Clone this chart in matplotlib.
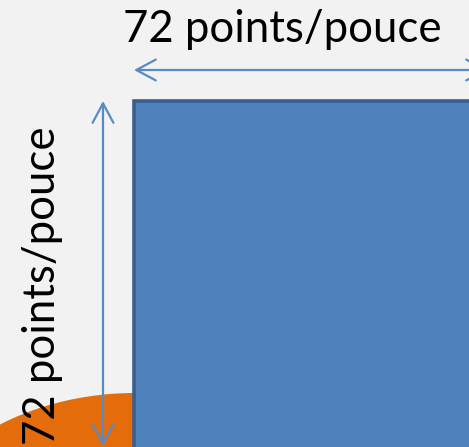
import matplotlib
matplotlib.use("Agg")
import matplotlib.pyplot as plt
from matplotlib.patches import Rectangle, Ellipse

label_text = "72 points/pouce"
bg_color = "#f2f2f2"
square_fill = "#4f81bd"
square_edge = "#3b5e8c"
arrow_color = "#5a8ac6"
orange = "#e46c0a"

W, H = 469, 447
fig = plt.figure(figsize=(W / 100, H / 100), dpi=100, facecolor=bg_color)
ax = fig.add_axes([0, 0, 1, 1])
ax.set_xlim(0, W)
ax.set_ylim(H, 0)
ax.axis("off")
ax.set_facecolor(bg_color)

# orange ellipse behind
ax.add_patch(Ellipse((135, 575), 480, 364, facecolor=orange, edgecolor="none", zorder=1))

# blue square
ax.add_patch(Rectangle((134, 100.5), 400, 400, facecolor=square_fill,
                       edgecolor=square_edge, linewidth=2.6, zorder=2))

# arrows
arrow_props = dict(arrowstyle="<->,head_length=14,head_width=7.5", color=arrow_color,
                   lw=1.6, mutation_scale=1, shrinkA=0, shrinkB=0)
ax.annotate("", xy=(134, 70), xytext=(488, 70), arrowprops=arrow_props, zorder=3)
ax.annotate("", xy=(103, 101), xytext=(103, 446), arrowprops=arrow_props, zorder=3)

# labels
ax.text(282, 42, label_text, fontsize=31.5, family="Lato", color="black",
        ha="center", va="baseline", zorder=4)
ax.text(43, 286, label_text, fontsize=31.5, family="Lato", color="black",
        ha="center", va="center", rotation=90, rotation_mode="anchor", zorder=4)

fig.savefig("out.png", dpi=100, facecolor=bg_color)
